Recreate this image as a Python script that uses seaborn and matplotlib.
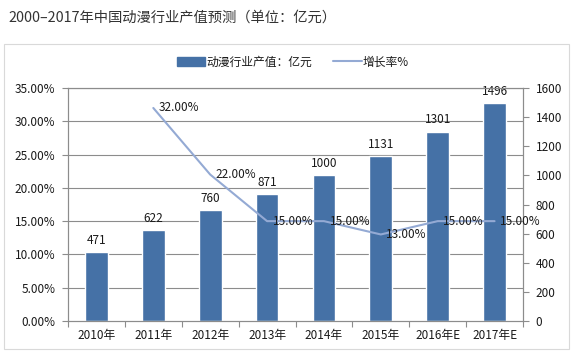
import numpy as np
import pandas as pd
import matplotlib
matplotlib.use("Agg")
import matplotlib.pyplot as plt
from matplotlib.patches import Patch, Rectangle
from matplotlib.lines import Line2D
import seaborn as sns

categories = ["2010年", "2011年", "2012年", "2013年", "2014年", "2015年", "2016年E", "2017年E"]
output_values = [471, 622, 760, 871, 1000, 1131, 1301, 1496]
growth_rates = [np.nan, 32.0, 22.0, 15.0, 15.0, 13.0, 15.0, 15.0]
left_ticks = [0, 5, 10, 15, 20, 25, 30, 35]
right_ticks = [0, 200, 400, 600, 800, 1000, 1200, 1400, 1600]

sns.set_theme(style="white")
plt.rcParams["font.family"] = ["Noto Sans CJK SC", "DejaVu Sans"]

BAR = "#4571a6"
LINE = "#94aad4"
GRID = "#8c8c8c"
TXT = "#1a1a1a"

fig = plt.figure(figsize=(5.72, 3.51), dpi=100)
fig.patch.set_facecolor("white")
# outer frame
fig.add_artist(Rectangle((4 / 572, 1 - 349 / 351), 565 / 572, 305 / 351,
                         transform=fig.transFigure, fill=False,
                         edgecolor="#d9d9d9", linewidth=0.8))
fig.text(8 / 572, 1 - 18 / 351, "2000–2017年中国动漫行业产值预测（单位：亿元）",
         fontsize=10.3, color="#333333", ha="left", va="center")

ax = fig.add_axes([68 / 572, 1 - 321 / 351, 455 / 572, 233 / 351])
df = pd.DataFrame({"cat": categories, "val": output_values})
sns.barplot(data=df, x="cat", y="val", color=BAR, width=0.4, saturation=1, ax=ax, zorder=2)

ax2 = ax.twinx()
ldf = pd.DataFrame({"pos": np.arange(len(categories)), "g": growth_rates}).dropna()
sns.lineplot(data=ldf, x="pos", y="g", color=LINE, linewidth=1.5, ax=ax2, zorder=3)

ax.set_ylim(0, 1600)
ax.set_xlim(-0.5, len(categories) - 0.5)
ax.yaxis.tick_right()
ax.set_yticks(right_ticks)
ax.set_xlabel("")
ax.set_ylabel("")
for i, v in enumerate(output_values):
    ax.annotate(f"{v}", (i, v), xytext=(0, 4), textcoords="offset points",
                ha="center", va="bottom", fontsize=8.5, color=TXT)

ax2.set_ylim(0, 35)
ax2.yaxis.tick_left()
ax2.set_yticks(left_ticks)
ax2.set_yticklabels([f"{t:.2f}%" for t in left_ticks])
ax2.set_xlabel("")
ax2.set_ylabel("")
for t in left_ticks[1:]:
    ax.axhline(t / 35 * 1600, color=GRID, linewidth=0.8, zorder=0)
for _, r in ldf.iterrows():
    ax2.annotate(f"{r['g']:.2f}%", (r["pos"], r["g"]), xytext=(4, 0), textcoords="offset points",
                 ha="left", va="center", fontsize=8.5, color=TXT)

for a in (ax, ax2):
    for s in a.spines.values():
        s.set_color(GRID)
        s.set_linewidth(0.8)

ax.set_xticks(np.arange(len(categories)))
ax.set_xticklabels(categories)
ax.set_xticks(np.arange(len(categories) + 1) - 0.5, minor=True)
ax.tick_params(axis="x", which="major", bottom=False, length=0, labelsize=8.5, colors=TXT, pad=6)
ax.tick_params(axis="x", which="minor", bottom=True, length=4, color=GRID, width=0.8, direction="out")
ax.tick_params(axis="y", right=True, left=False, labelright=True, labelleft=False,
               length=4, color=GRID, width=0.8, labelsize=8.5, labelcolor=TXT, pad=5, direction="out")
ax2.tick_params(axis="y", left=True, right=False, labelleft=True, labelright=False,
                length=4, color=GRID, width=0.8, labelsize=8.5, labelcolor=TXT, pad=5, direction="out")
ax2.tick_params(axis="x", which="both", bottom=False, top=False, labelbottom=False)

handles = [Patch(facecolor=BAR, edgecolor=BAR), Line2D([0], [0], color=LINE, linewidth=1.5)]
fig.legend(handles, ["动漫行业产值：亿元", "增长率%"], loc="center",
           bbox_to_anchor=(293 / 572, 1 - 62 / 351), ncol=2, frameon=False,
           fontsize=8.5, handlelength=2.4, handleheight=0.7, handletextpad=0.1,
           columnspacing=1.8, labelcolor=TXT)

fig.savefig("out.png", dpi=100, facecolor="white")
